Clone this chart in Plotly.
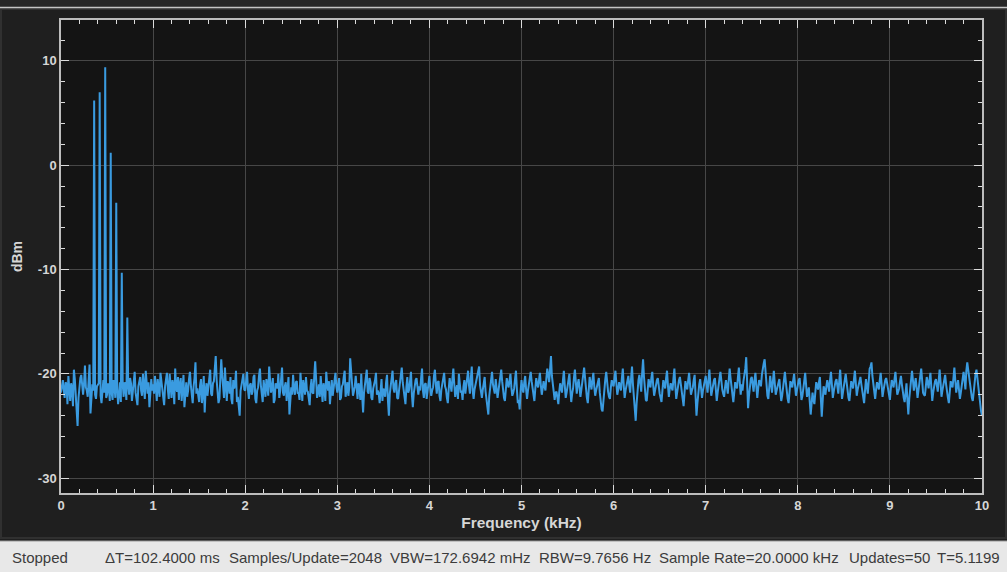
import plotly.graph_objects as go

# ---------------- data ----------------
STEP_KHZ = 0.02  # spacing inside each block

# spectrum level (dBm), one list per 0.5 kHz block: even bins (k*0.5 + i*0.02)
seg_0_0 = [-21.8, -20.6, -22.3, -21.0, -20.2, -22.6, -21.4, -19.6, -21.9, -25.0,
           -21.2, -20.1, -22.0, -19.2, -21.6, -20.4, -23.8, -21.0, 6.2, -22.4,
           -21.0, 7.0, -22.8, -20.6, 9.4]
seg_0_5 = [-22.0, -21.3, 1.2, -22.5, -21.1, -3.6, -22.9, -20.8, -10.3, -22.2,
           -21.4, -14.6, -22.0, -20.9, -21.7, -19.8, -22.4, -21.2, -20.3, -22.1,
           -21.5, -19.7, -21.9, -23.2, -20.5]
seg_1_0 = [-21.0, -20.2, -22.6, -21.4, -19.9, -21.8, -23.0, -20.7, -21.5, -20.0,
           -22.3, -21.1, -19.5, -21.7, -22.5, -20.4, -21.3, -23.2, -20.8, -21.6,
           -19.8, -22.0, -21.2, -18.9, -21.4]
seg_1_5 = [-22.7, -20.5, -21.9, -23.7, -20.9, -21.3, -19.6, -22.1, -20.7, -18.3,
           -21.5, -22.4, -18.6, -21.8, -19.4, -22.6, -21.0, -20.3, -22.9, -21.4,
           -19.7, -22.2, -24.0, -21.1, -20.0]
seg_2_0 = [-21.6, -19.8, -22.4, -20.9, -21.7, -20.1, -22.8, -21.3, -19.5, -21.9,
           -20.6, -22.2, -21.0, -19.3, -21.8, -20.4, -22.5, -21.2, -20.0, -21.6,
           -19.4, -22.1, -20.8, -21.5, -23.9]
seg_2_5 = [-21.3, -20.1, -22.0, -20.7, -21.8, -19.9, -22.6, -21.1, -20.3, -21.7,
           -23.0, -20.5, -21.9, -18.8, -22.3, -21.0, -20.2, -22.7, -21.4, -19.8,
           -21.6, -22.9, -20.6, -21.2, -19.9]
seg_3_0 = [-21.8, -20.4, -22.3, -21.0, -19.7, -21.5, -22.1, -18.5, -20.9, -21.7,
           -20.2, -22.4, -21.3, -20.0, -23.7, -21.2, -19.6, -21.9, -20.8, -22.5,
           -21.1, -19.9, -21.6, -22.8, -20.5]
seg_3_5 = [-21.4, -22.2, -20.1, -24.0, -21.3, -19.7, -21.8, -20.6, -22.4, -21.0,
           -19.4, -21.7, -22.9, -20.3, -21.5, -19.8, -23.2, -21.1, -20.4, -22.0,
           -21.6, -19.5, -22.3, -20.9, -21.4]
seg_4_0 = [-20.2, -22.1, -21.3, -19.6, -21.9, -20.7, -22.6, -21.0, -19.9, -21.5,
           -22.8, -20.4, -21.7, -19.5, -22.2, -21.1, -20.0, -21.8, -22.5, -20.6,
           -21.3, -19.7, -21.9, -19.3, -22.4]
seg_4_5 = [-21.0, -20.1, -19.3, -22.0, -21.5, -20.3, -22.7, -23.9, -21.2, -19.8,
           -21.6, -20.5, -22.3, -21.0, -19.6, -21.9, -22.6, -20.4, -21.3, -20.0,
           -22.1, -21.4, -19.7, -22.8, -23.4]
seg_5_0 = [-20.6, -21.8, -20.2, -22.4, -21.0, -19.8, -21.5, -22.6, -20.4, -21.3,
           -19.9, -22.0, -20.7, -21.6, -19.5, -20.8, -18.3, -21.2, -22.5, -21.7,
           -22.9, -20.9, -21.8, -19.7, -22.3]
seg_5_5 = [-21.1, -20.0, -22.7, -21.4, -19.6, -21.9, -20.5, -22.2, -21.0, -19.4,
           -21.6, -22.8, -20.3, -21.5, -19.9, -22.1, -21.2, -20.4, -23.0, -23.6,
           -21.3, -19.8, -21.7, -22.4, -20.6]
seg_6_0 = [-21.2, -19.7, -22.0, -20.8, -21.6, -19.5, -22.3, -21.0, -20.2, -21.8,
           -19.3, -22.5, -24.5, -21.4, -20.1, -21.7, -18.6, -21.9, -22.6, -20.5,
           -21.3, -19.8, -22.1, -21.0, -20.4]
seg_6_5 = [-21.9, -22.7, -20.6, -21.4, -19.7, -22.2, -20.9, -21.6, -19.5, -22.4,
           -21.1, -20.3, -21.8, -23.1, -20.7, -21.5, -19.9, -22.0, -21.3, -20.1,
           -24.0, -21.7, -20.5, -22.3, -21.0]
seg_7_0 = [-20.2, -21.8, -19.6, -22.1, -21.0, -20.4, -22.6, -21.3, -19.8, -21.5,
           -22.2, -20.6, -21.9, -19.5, -21.2, -22.7, -20.8, -21.4, -19.4, -22.0,
           -21.6, -20.1, -18.4, -23.3, -21.0]
seg_7_5 = [-20.3, -21.7, -19.9, -22.3, -20.6, -21.2, -19.4, -18.6, -21.5, -22.4,
           -20.2, -21.8, -19.7, -22.0, -21.1, -20.5, -22.6, -21.4, -19.8, -21.9,
           -22.8, -20.7, -21.3, -20.0, -22.1]
seg_8_0 = [-21.0, -20.4, -22.5, -21.6, -19.9, -22.2, -21.3, -23.9, -21.8, -22.9,
           -20.8, -21.5, -20.3, -24.1, -21.2, -22.0, -20.6, -21.7, -19.8, -22.3,
           -21.1, -20.5, -21.9, -19.6, -22.4]
seg_8_5 = [-21.3, -20.0, -21.8, -22.6, -20.7, -21.4, -19.7, -22.1, -21.0, -20.3,
           -21.6, -22.8, -20.5, -21.9, -19.5, -18.9, -21.2, -22.4, -20.8, -21.5,
           -19.9, -22.2, -21.0, -20.4, -21.7]
seg_9_0 = [-22.5, -20.6, -21.3, -19.8, -22.0, -21.4, -20.2, -21.9, -22.7, -20.9,
           -23.9, -21.2, -19.7, -21.6, -20.4, -22.3, -21.0, -19.5, -21.8, -22.1,
           -20.3, -21.4, -19.9, -22.6, -21.1]
seg_9_5 = [-20.5, -21.7, -19.6, -22.2, -21.0, -20.1, -21.9, -22.8, -20.7, -21.3,
           -19.4, -21.8, -20.6, -22.4, -21.2, -19.8, -21.5, -18.9, -20.3, -21.9,
           -22.6, -20.4, -19.6, -21.3, -23.0, -24.0]

# odd bins of each block (k*0.5 + 0.01 + i*0.02)
half_0_0 = [-21.2, -21.5, -20.8, -22.9, -21.4, -20.9, -23.1, -20.5, -22.8, -22.3,
            -20.4, -21.7, -20.9, -21.3, -22.2, -19.1, -22.4, -21.6, -22.0, -21.2,
            -20.9, -22.1, -21.5, -21.8, -22.3]
half_0_5 = [-20.9, -22.6, -21.8, -20.6, -22.3, -21.5, -21.9, -22.7, -21.0, -20.8,
            -22.5, -21.1, -20.4, -22.6, -20.2, -21.8, -23.0, -20.7, -21.6, -20.0,
            -22.4, -21.3, -20.8, -21.9, -21.6]
half_1_0 = [-21.9, -21.3, -20.5, -22.2, -20.8, -22.7, -21.2, -19.9, -22.4, -21.8,
            -20.6, -22.9, -21.4, -20.3, -21.0, -22.6, -20.1, -21.7, -22.2, -20.5,
            -21.1, -22.8, -20.4, -21.9, -22.5]
half_1_5 = [-21.1, -22.8, -20.2, -21.6, -22.1, -20.4, -21.9, -20.9, -19.5, -20.6,
            -22.8, -21.0, -20.1, -22.3, -21.5, -20.7, -21.9, -22.4, -20.6, -21.0,
            -22.7, -23.1, -21.6, -20.4, -21.5]
half_2_0 = [-20.7, -21.5, -21.1, -22.0, -20.3, -22.4, -21.6, -20.2, -21.1, -22.7,
            -21.3, -20.5, -22.1, -20.6, -21.3, -22.8, -20.9, -21.4, -22.3, -20.4,
            -21.8, -21.2, -22.6, -20.3, -22.7]
half_2_5 = [-22.0, -21.4, -20.8, -21.9, -22.5, -21.2, -20.6, -22.0, -21.6, -22.4,
            -21.3, -21.8, -20.2, -20.5, -21.7, -22.2, -21.5, -20.9, -22.6, -21.0,
            -20.7, -21.8, -22.1, -20.4, -21.2]
half_3_0 = [-21.0, -22.5, -21.2, -20.3, -22.2, -20.8, -21.3, -20.0, -22.1, -21.2,
            -21.6, -20.9, -22.5, -22.1, -21.8, -20.5, -21.7, -20.4, -22.3, -21.4,
            -20.6, -22.0, -21.9, -20.9, -22.6]
half_3_5 = [-21.7, -20.8, -22.6, -21.9, -20.6, -21.4, -20.9, -22.3, -21.6, -20.1,
            -20.8, -22.5, -21.3, -21.8, -20.7, -22.0, -21.9, -20.6, -21.5, -21.2,
            -20.4, -21.6, -21.0, -22.4, -20.8]
half_4_0 = [-21.4, -21.6, -20.2, -21.0, -20.8, -22.1, -21.5, -20.3, -21.2, -22.3,
            -21.4, -21.1, -20.5, -21.0, -21.5, -22.4, -20.9, -21.6, -21.2, -21.9,
            -20.6, -21.1, -20.4, -21.6, -21.5]
half_4_5 = [-20.4, -19.8, -21.1, -22.3, -20.8, -21.7, -23.2, -22.1, -20.5, -21.0,
            -21.9, -21.3, -21.6, -20.3, -20.7, -22.3, -21.2, -21.0, -20.6, -21.3,
            -21.8, -20.5, -21.5, -22.5, -21.7]
half_5_0 = [-21.4, -20.8, -21.5, -21.6, -20.3, -20.7, -22.3, -21.4, -21.0, -20.6,
            -21.1, -21.4, -21.2, -20.4, -20.1, -19.6, -20.2, -21.9, -21.8, -22.3,
            -21.7, -21.4, -20.6, -21.1, -21.8]
half_5_5 = [-20.4, -21.5, -21.9, -20.3, -20.8, -21.0, -21.3, -21.5, -20.1, -20.6,
            -22.3, -21.4, -20.9, -20.6, -21.2, -21.6, -20.7, -21.8, -23.4, -22.2,
            -20.5, -20.9, -22.2, -21.3, -21.0]
half_6_0 = [-20.4, -20.9, -21.5, -21.2, -20.4, -21.1, -21.6, -20.5, -21.1, -20.4,
            -21.0, -23.3, -22.8, -20.6, -21.0, -19.9, -20.3, -22.5, -21.4, -21.0,
            -20.4, -21.1, -21.6, -20.6, -21.3]
half_6_5 = [-22.3, -21.6, -21.0, -20.4, -21.1, -21.4, -21.3, -20.4, -21.1, -21.8,
            -20.6, -21.1, -22.6, -21.8, -21.2, -20.6, -21.0, -21.6, -20.6, -22.1,
            -22.8, -21.0, -21.5, -21.6, -20.5]
half_7_0 = [-21.0, -20.6, -20.9, -21.6, -20.6, -21.6, -21.8, -20.4, -20.8, -21.9,
            -21.3, -21.2, -20.6, -20.4, -21.9, -21.8, -21.1, -20.3, -20.8, -21.0,
            -20.7, -19.5, -20.9, -22.1, -20.5]
half_7_5 = [-21.0, -20.6, -21.2, -21.4, -20.8, -20.1, -19.0, -20.0, -22.1, -21.2,
            -21.0, -20.7, -20.9, -21.6, -20.7, -21.6, -22.1, -20.5, -20.8, -22.4,
            -21.8, -21.0, -20.6, -21.1, -21.6]
half_8_0 = [-20.6, -21.5, -22.1, -20.7, -21.0, -21.8, -22.7, -22.8, -22.5, -21.8,
            -21.1, -20.8, -22.3, -22.6, -21.5, -21.2, -21.1, -20.6, -21.0, -21.7,
            -20.7, -21.3, -20.7, -21.0, -21.8]
half_8_5 = [-20.6, -20.8, -22.3, -21.6, -21.0, -20.5, -20.9, -21.5, -20.6, -21.0,
            -22.3, -21.6, -21.2, -20.7, -19.3, -20.2, -21.9, -21.5, -21.1, -20.6,
            -21.0, -21.6, -20.6, -21.0, -22.0]
half_9_0 = [-21.4, -20.9, -20.5, -20.9, -21.7, -20.7, -21.0, -22.3, -21.8, -22.5,
            -22.4, -20.4, -20.6, -21.0, -21.3, -21.6, -20.2, -20.6, -22.0, -21.2,
            -20.8, -20.6, -21.3, -21.8, -20.7]
half_9_5 = [-21.1, -20.6, -20.8, -21.6, -20.5, -21.0, -22.3, -21.7, -21.0, -20.4,
            -20.6, -21.2, -21.5, -21.8, -20.5, -20.6, -19.7, -19.6, -21.1, -22.3,
            -21.5, -20.0, -20.5, -22.1, -23.6]

segments = [seg_0_0, seg_0_5, seg_1_0, seg_1_5, seg_2_0, seg_2_5, seg_3_0, seg_3_5,
            seg_4_0, seg_4_5, seg_5_0, seg_5_5, seg_6_0, seg_6_5, seg_7_0, seg_7_5,
            seg_8_0, seg_8_5, seg_9_0, seg_9_5]
half_segments = [half_0_0, half_0_5, half_1_0, half_1_5, half_2_0, half_2_5, half_3_0,
                 half_3_5, half_4_0, half_4_5, half_5_0, half_5_5, half_6_0, half_6_5,
                 half_7_0, half_7_5, half_8_0, half_8_5, half_9_0, half_9_5]

x_ticks = [0, 1, 2, 3, 4, 5, 6, 7, 8, 9, 10]
y_ticks = [-30, -20, -10, 0, 10]

status_state = "Stopped"
status_fields = ["\u0394T=102.4000 ms", "Samples/Update=2048", "VBW=172.6942 mHz",
                 "RBW=9.7656 Hz", "Sample Rate=20.0000 kHz", "Updates=50", "T=5.1199"]
status_field_px = [103, 227, 388, 537, 657, 847, 935]

# build frequency/level series from the blocks
points = []
for k, seg in enumerate(segments):
    for i, v in enumerate(seg):
        points.append((round(k * 0.5 + i * STEP_KHZ, 4), v))
for k, seg in enumerate(half_segments):
    for i, v in enumerate(seg):
        points.append((round(k * 0.5 + 0.01 + i * STEP_KHZ, 4), v))
points.sort()
freq_khz = [p[0] for p in points]
level_dbm = [p[1] for p in points]

# ---------------- figure ----------------
W, H = 1007, 572
L, R, T, B = 61, 25, 20, 79
PW, PH = W - L - R, H - T - B


def px(x):
    return (x - L) / PW


def py(y):
    return (H - B - y) / PH


FG = "#d6d6d6"
fig = go.Figure()
fig.add_trace(go.Scatter(x=freq_khz, y=level_dbm, mode="lines",
                         line=dict(color="#3a9be0", width=2.0),
                         hoverinfo="x+y", showlegend=False))

axis_common = dict(
    ticks="inside", ticklen=8, tickwidth=1, tickcolor="#dcdcdc",
    showline=True, linecolor="#bdbdbd", linewidth=1.5, mirror="allticks",
    showgrid=True, gridcolor="#474747", gridwidth=1, zeroline=False,
    tickfont=dict(family="Liberation Sans, Arial", size=13, color=FG, weight="bold"),
)

fig.update_xaxes(range=[0, 10], tickvals=x_ticks, ticktext=[str(v) for v in x_ticks],
                 minor=dict(ticks="inside", ticklen=4, dtick=0.2, tickcolor="#dcdcdc", showgrid=False),
                 title=dict(text="Frequency (kHz)", standoff=5,
                            font=dict(family="Liberation Sans, Arial", size=15.5, color=FG, weight="bold")),
                 **axis_common)
fig.update_yaxes(range=[-31.42, 13.92], tickvals=y_ticks, ticktext=[str(v) for v in y_ticks],
                 minor=dict(ticks="inside", ticklen=4, dtick=2, tick0=0, tickcolor="#dcdcdc", showgrid=False),
                 title=dict(text="dBm", standoff=12,
                            font=dict(family="Liberation Sans, Arial", size=14, color=FG, weight="bold")),
                 **axis_common)

shapes = [
    # top dark strip and separator line
    dict(type="rect", xref="paper", yref="paper", x0=px(0), x1=px(W), y0=py(0), y1=py(7),
         fillcolor="#262626", line=dict(width=0), layer="below"),
    dict(type="line", xref="paper", yref="paper", x0=px(0), x1=px(W), y0=py(7.5), y1=py(7.5),
         line=dict(color="#c4c4c4", width=1.5)),
    # outer panel border
    dict(type="rect", xref="paper", yref="paper", x0=px(1), x1=px(W - 1), y0=py(9), y1=py(538),
         line=dict(color="#303030", width=2), fillcolor="rgba(0,0,0,0)", layer="below"),
    # status bar
    dict(type="rect", xref="paper", yref="paper", x0=px(0), x1=px(W), y0=py(541), y1=py(H),
         fillcolor="#e8e8e8", line=dict(width=0)),
    dict(type="line", xref="paper", yref="paper", x0=px(0), x1=px(W), y0=py(541), y1=py(541),
         line=dict(color="#9a9a9a", width=1)),
]

status_font = dict(family="Liberation Sans, Arial", size=15, color="#3c3c3c")
annotations = [dict(text=status_state, xref="paper", yref="paper", x=px(10), y=py(557),
                    xanchor="left", yanchor="middle", showarrow=False, font=status_font)]
for txt, xp in zip(status_fields, status_field_px):
    annotations.append(dict(text=txt, xref="paper", yref="paper", x=px(xp), y=py(557),
                            xanchor="left", yanchor="middle", showarrow=False, font=status_font))

fig.update_layout(
    width=W, height=H,
    margin=dict(l=L, r=R, t=T, b=B, autoexpand=False),
    paper_bgcolor="#1f1f1f", plot_bgcolor="#141414",
    shapes=shapes, annotations=annotations,
    showlegend=False,
)

fig.write_html("out.html", config={"displayModeBar": False},
               post_script="document.body.style.margin='0';document.body.style.overflow='hidden';")
